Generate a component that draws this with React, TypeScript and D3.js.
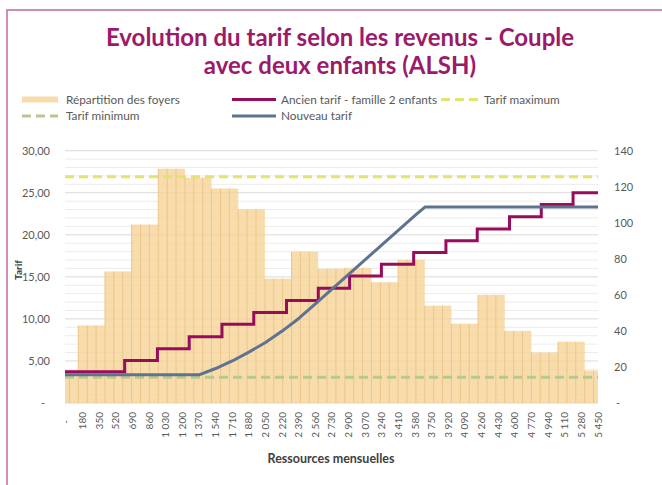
import * as d3 from 'd3';

// revenus mensuels affichés sur l'axe horizontal
const revenus = [0, 180, 350, 520, 690, 860, 1030, 1200, 1370, 1540, 1710, 1880, 2050, 2220, 2390, 2560, 2730, 2900, 3070, 3240, 3410, 3580, 3750, 3920, 4090, 4260, 4430, 4600, 4770, 4940, 5110, 5280, 5450];

// répartition des foyers (axe secondaire), 21 tranches
const repartition = [18, 43, 73, 99, 130, 125, 119, 107.5, 69, 84, 74.5, 75, 67, 79.5, 54, 44, 60, 40, 28, 34, 18];

// ancien tarif : seuils de revenus et tarif de chaque palier
const ancienSeuils = [0, 610, 945, 1270, 1605, 1930, 2265, 2590, 2910, 3235, 3565, 3895, 4215, 4545, 4870, 5195, 5450];
const ancienTarif = [3.72, 5.05, 6.45, 7.88, 9.35, 10.75, 12.2, 13.65, 15.1, 16.5, 17.9, 19.3, 20.7, 22.15, 23.6, 25.0, 25.0];

// nouveau tarif
const nouveauRevenus = [0, 1370, 1540, 1710, 1880, 2050, 2220, 2390, 2560, 2730, 2900, 3070, 3240, 3410, 3580, 3680, 5450];
const nouveauTarif = [3.35, 3.35, 4.1, 5.0, 6.05, 7.2, 8.55, 10.05, 11.8, 13.55, 15.3, 17.05, 18.8, 20.55, 22.3, 23.3, 23.3];

const tarifMaximum = 26.9;
const tarifMinimum = 3.05;

const leftTicks = [0, 5, 10, 15, 20, 25, 30];
const rightTicks = [0, 20, 40, 60, 80, 100, 120, 140];

const C = {
  bar: '#f6d396',
  barLine: '#ebc68a',
  ancien: '#980c5c',
  nouveau: '#5f7391',
  max: '#e2e470',
  min: '#b6c98e',
  title: '#9b1a6a',
  text: '#595959',
};

const FONT = 'Lato, "Open Sans", sans-serif';

const fr = d3.formatLocale({ decimal: ',', thousands: '\u00a0', grouping: [3], currency: ['', '€'] });
const fmtTarif = fr.format('.2f');
const fmtRev = fr.format(',');

export default function App() {
  const W = 662;
  const H = 485;
  const left = 65, right = 598, top = 150.7, bottom = 403;

  const yL = d3.scaleLinear().domain([0, 30]).range([bottom, top]);
  const yR = d3.scaleLinear().domain([0, 140]).range([bottom, top]);
  const x = d3.scaleLinear().domain([0, 5450]).range([left, right]);
  const xBar = d3.scalePoint<number>().domain(d3.range(repartition.length)).range([left, right]);
  const bw = xBar.step();

  const ancienLine = d3.line<number>()
    .x((_, i) => x(ancienSeuils[i]))
    .y((d) => yL(d))
    .curve(d3.curveStepAfter);
  const nouveauLine = d3.line<number>()
    .x((_, i) => x(nouveauRevenus[i]))
    .y((d) => yL(d));

  const grid = d3.range(0, 31, 1);

  return (
    <svg width={W} height={H} style={{ position: 'absolute', left: 0, top: 0, background: '#fff' }} fontFamily={FONT}>
      <defs>
        <clipPath id="plot">
          <rect x={left} y={top - 2} width={right - left} height={bottom - top + 4} />
        </clipPath>
      </defs>
      <rect x={0} y={0} width={W} height={H} fill="#fff" />
      <rect x={7} y={10} width={720} height={520} fill="none" stroke="#c06a9c" strokeWidth={1.5} />

      <text x={340} y={46} textAnchor="middle" fontSize={24} fontWeight="bold" fill={C.title}>
        Evolution du tarif selon les revenus - Couple
      </text>
      <text x={340} y={74} textAnchor="middle" fontSize={24} fontWeight="bold" fill={C.title}>
        avec deux enfants (ALSH)
      </text>

      {/* légende */}
      <g fontSize={11.8} fill={C.text}>
        <line x1={22} x2={58} y1={99.5} y2={99.5} stroke="#f8dcab" strokeWidth={6} />
        <text x={66} y={99.5} dy="0.35em">Répartition des foyers</text>
        <line x1={232} x2={276} y1={99.5} y2={99.5} stroke={C.ancien} strokeWidth={3} />
        <text x={281} y={99.5} dy="0.35em">Ancien tarif - famille 2 enfants</text>
        <line x1={441} x2={478} y1={99.5} y2={99.5} stroke={C.max} strokeWidth={3} strokeDasharray="9,5" />
        <text x={484} y={99.5} dy="0.35em">Tarif maximum</text>
        <line x1={22} x2={58} y1={116} y2={116} stroke={C.min} strokeWidth={3} strokeDasharray="9,5" />
        <text x={66} y={116} dy="0.35em">Tarif minimum</text>
        <line x1={232} x2={276} y1={116} y2={116} stroke={C.nouveau} strokeWidth={3} />
        <text x={281} y={116} dy="0.35em">Nouveau tarif</text>
      </g>

      {/* grille */}
      {grid.map((v) => (
        <line key={'g' + v} x1={left} x2={right} y1={yL(v)} y2={yL(v)}
          stroke={v % 5 === 0 ? '#d9d9d9' : '#ececec'} strokeWidth={1} />
      ))}

      {/* barres */}
      <g clipPath="url(#plot)">
        {repartition.map((v, i) => {
          const x0 = (xBar(i) as number) - bw / 2;
          return (
            <g key={'b' + i}>
              <rect x={x0} y={yR(v)} width={bw} height={bottom - yR(v)} fill={C.bar} fillOpacity={0.8} />
              {[0, 1, 2].map((k) => (
                <line key={k} x1={x0 + (k * bw) / 3} x2={x0 + (k * bw) / 3} y1={yR(v)} y2={bottom}
                  stroke={C.barLine} strokeWidth={1} />
              ))}
            </g>
          );
        })}
      </g>

      {/* tarifs max / min */}
      <line x1={left} x2={right} y1={yL(tarifMaximum)} y2={yL(tarifMaximum)} stroke={C.max} strokeWidth={3} strokeDasharray="9,5" />
      <line x1={left} x2={right} y1={yL(tarifMinimum)} y2={yL(tarifMinimum)} stroke={C.min} strokeWidth={3} strokeDasharray="9,5" />

      <path d={ancienLine(ancienTarif) || ''} fill="none" stroke={C.ancien} strokeWidth={3} />
      <path d={nouveauLine(nouveauTarif) || ''} fill="none" stroke={C.nouveau} strokeWidth={3} strokeLinejoin="round" />

      {/* axe gauche */}
      <g fontSize={11} fill={C.text}>
        {leftTicks.map((v) => (
          <text key={'l' + v} x={v === 0 ? 45 : 50} y={yL(v)} dy="0.35em" textAnchor="end">
            {v === 0 ? '-' : fmtTarif(v)}
          </text>
        ))}
      </g>
      {/* axe droit */}
      <g fontSize={11} fill={C.text}>
        {rightTicks.map((v) => (
          <text key={'r' + v} x={v === 0 ? 616 : 614} y={yR(v)} dy="0.35em" textAnchor="start">
            {v === 0 ? '-' : v}
          </text>
        ))}
      </g>
      {/* axe horizontal */}
      <g fontSize={10} fill={C.text}>
        {revenus.map((r) => (
          <text key={'x' + r} transform={`translate(${x(r)},${r === 0 ? 422 : 412}) rotate(-90)`}
            dy="0.35em" textAnchor={r === 0 ? 'middle' : 'end'}>
            {r === 0 ? '-' : fmtRev(r)}
          </text>
        ))}
      </g>

      <text x={331} y={459} dy="0.35em" textAnchor="middle" fontSize={12.5} fontWeight="bold" fill="#404040">
        Ressources mensuelles
      </text>
      <text transform="translate(18,270) rotate(-90)" dy="0.35em" textAnchor="middle" fontSize={10} fontWeight="bold" fill="#404040">
        Tarif
      </text>
    </svg>
  );
}
